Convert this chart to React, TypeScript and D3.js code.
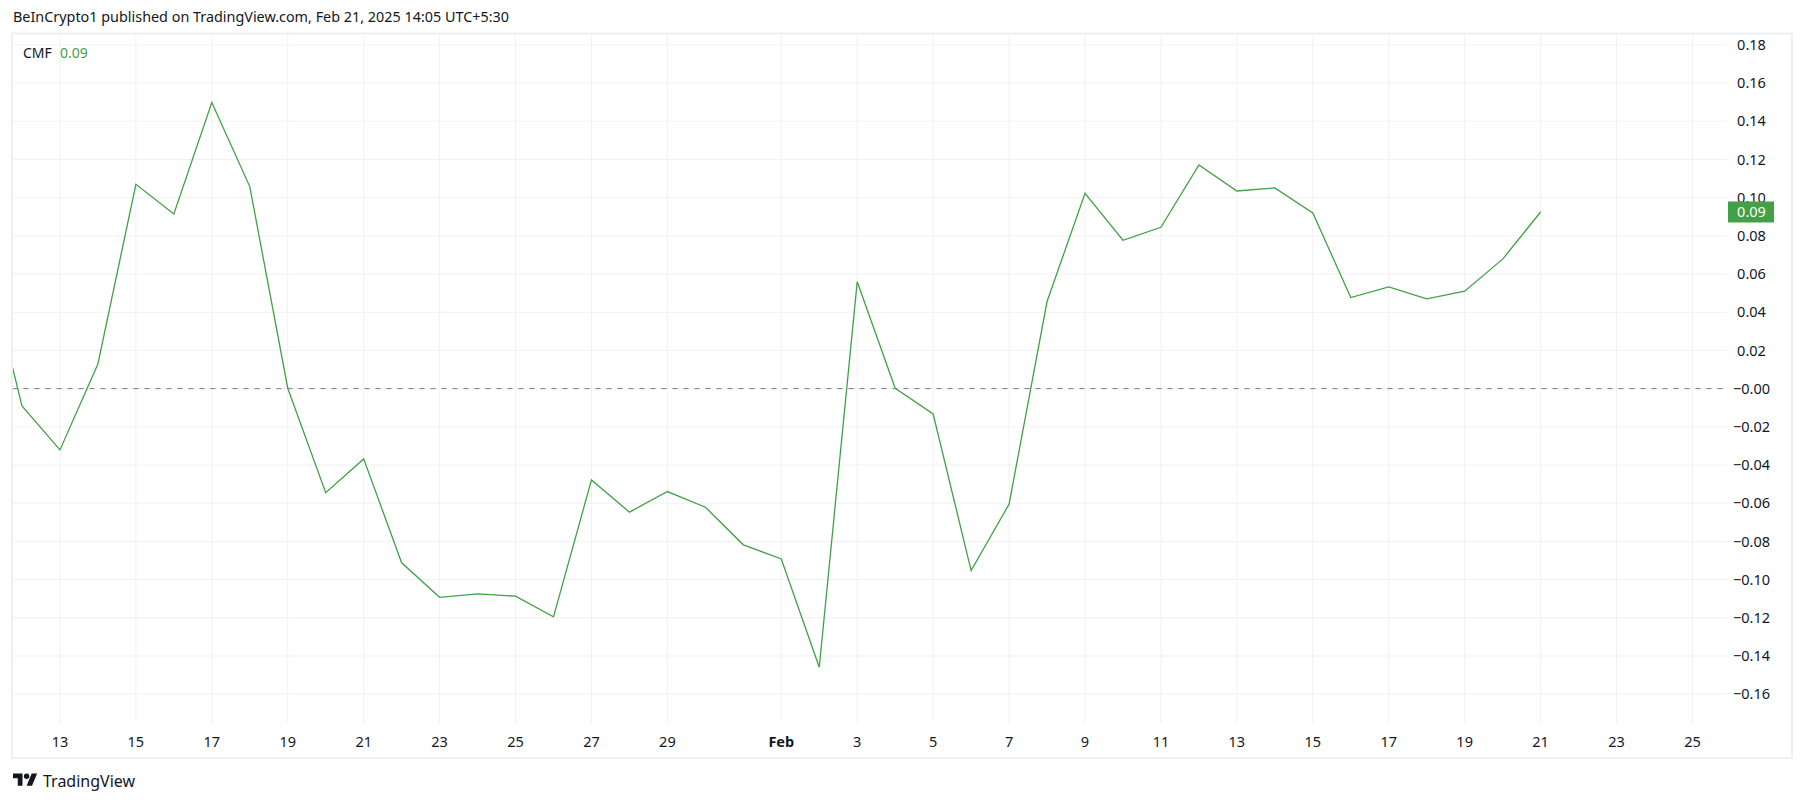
import React from "react";
import * as d3 from "d3";

const dates: string[] = [
  "2025-01-11","2025-01-12","2025-01-13","2025-01-14","2025-01-15","2025-01-16","2025-01-17","2025-01-18",
  "2025-01-19","2025-01-20","2025-01-21","2025-01-22","2025-01-23","2025-01-24","2025-01-25","2025-01-26",
  "2025-01-27","2025-01-28","2025-01-29","2025-01-30","2025-01-31","2025-02-01","2025-02-02","2025-02-03",
  "2025-02-04","2025-02-05","2025-02-06","2025-02-07","2025-02-08","2025-02-09","2025-02-10","2025-02-11",
  "2025-02-12","2025-02-13","2025-02-14","2025-02-15","2025-02-16","2025-02-17","2025-02-18","2025-02-19",
  "2025-02-20","2025-02-21",
];
const cmf: number[] = [
  0.072, -0.0091, -0.0321, 0.0129, 0.107, 0.0915, 0.1498, 0.1058,
  0.0002, -0.0545, -0.0368, -0.0912, -0.1093, -0.1075, -0.1087, -0.1195,
  -0.0478, -0.0647, -0.0539, -0.0621, -0.0818, -0.0892, -0.1459, 0.056,
  0.0002, -0.0133, -0.0953, -0.0605, 0.0456, 0.1023, 0.0777, 0.0845,
  0.1171, 0.1035, 0.1051, 0.092, 0.0477, 0.0533, 0.047, 0.051,
  0.0678, 0.0925,
];
const xTickDates: string[] = [
  "2025-01-13","2025-01-15","2025-01-17","2025-01-19","2025-01-21","2025-01-23","2025-01-25","2025-01-27",
  "2025-01-29","2025-02-01","2025-02-03","2025-02-05","2025-02-07","2025-02-09","2025-02-11","2025-02-13",
  "2025-02-15","2025-02-17","2025-02-19","2025-02-21","2025-02-23","2025-02-25",
];
const yTicks: number[] = [
  0.18, 0.16, 0.14, 0.12, 0.1, 0.08, 0.06, 0.04, 0.02, 0, -0.02, -0.04, -0.06, -0.08, -0.1, -0.12, -0.14, -0.16,
];
const xDomain: string[] = ["2025-01-11T18:00:00Z", "2025-02-25T21:50:00Z"];
const yDomain: number[] = [-0.1751, 0.1857];

const title = "BeInCrypto1 published on TradingView.com, Feb 21, 2025 14:05 UTC+5:30";
const indicatorName = "CMF";
const lastLabel = "0.09";

const FONT = "'Noto Sans', 'Open Sans', sans-serif";
const GREEN = "#43a047";
const TEXT = "#131722";

const parse = (s: string) => new Date(s.length === 10 ? s + "T00:00:00Z" : s);

export default function App() {
  const W = 1805, H = 803;
  const left = 12.5, right = 1727, top = 34, bottom = 723;
  const x = d3.scaleUtc().domain(xDomain.map(parse)).range([left, right]);
  const y = d3.scaleLinear().domain(yDomain).range([bottom, top]);

  const pts = dates.map((d, i) => [x(parse(d)), y(cmf[i])] as [number, number]);
  const line = d3.line<[number, number]>().x((p) => p[0]).y((p) => p[1])(pts) || "";

  const fmtY = (v: number) => {
    const s = Math.abs(v).toFixed(2);
    return v > 0 ? s : "\u2212" + s;
  };
  const fmtX = (s: string) => {
    const d = parse(s);
    return d.getUTCDate() === 1 ? d3.utcFormat("%b")(d) : String(d.getUTCDate());
  };

  const lastY = y(cmf[cmf.length - 1]);
  const axisCx = 1751.5;

  return (
    <div style={{ position: "fixed", left: 0, top: 0 }}>
      <svg width={W} height={H} style={{ display: "block", background: "#fff" }}>
        <rect x={0} y={0} width={W} height={H} fill="#fff" />
        <text x={13} y={21.5} fontFamily={FONT} fontSize={15} fill={TEXT} textLength={496} lengthAdjust="spacingAndGlyphs">{title}</text>

        <defs>
          <clipPath id="plotClip">
            <rect x={left} y={top} width={right - left} height={bottom - top} />
          </clipPath>
        </defs>

        {/* horizontal grid */}
        {yTicks.map((t) => (
          <line key={"h" + t} x1={left} x2={right} y1={y(t)} y2={y(t)} stroke="#f0f1f3" strokeWidth={1} />
        ))}
        {/* vertical grid */}
        {xTickDates.map((d) => (
          <line key={"v" + d} x1={x(parse(d))} x2={x(parse(d))} y1={top} y2={bottom} stroke="#f0f1f3" strokeWidth={1} />
        ))}

        {/* zero dashed line */}
        <line x1={left} x2={right} y1={y(0)} y2={y(0)} stroke="#787b86" strokeWidth={1} strokeDasharray="5 6" />

        {/* series */}
        <path d={line} fill="none" stroke={GREEN} strokeWidth={1.3} clipPath="url(#plotClip)" strokeLinejoin="miter" />

        {/* pane frame */}
        <rect x={12} y={33.5} width={1780} height={724.5} fill="none" stroke="#eeeff1" strokeWidth={2} />

        {/* legend */}
        <text x={23} y={58} fontFamily={FONT} fontSize={14} fill={TEXT}>{indicatorName}</text>
        <text x={60} y={58} fontFamily={FONT} fontSize={14} fill={GREEN}>{lastLabel}</text>

        {/* price axis labels */}
        {yTicks.map((t) => (
          <text key={"yl" + t} x={axisCx} y={y(t)} dy="0.36em" textAnchor="middle" fontFamily={FONT} fontSize={14.5} fill={TEXT}>
            {fmtY(t)}
          </text>
        ))}

        {/* last value label */}
        <rect x={1728} y={lastY - 10.5} width={46} height={21} fill={GREEN} />
        <text x={axisCx} y={lastY} dy="0.36em" textAnchor="middle" fontFamily={FONT} fontSize={14.5} fill="#fff">{lastLabel}</text>

        {/* time axis labels */}
        {xTickDates.map((d) => (
          <text key={"xl" + d} x={x(parse(d))} y={742} dy="0.36em" textAnchor="middle" fontFamily={FONT} fontSize={14.5}
            fontWeight={parse(d).getUTCDate() === 1 ? 700 : 400} fill={TEXT}>
            {fmtX(d)}
          </text>
        ))}

        {/* TradingView logo */}
        <g transform="translate(13,773.5) scale(0.68)" fill={TEXT}>
          <path d="M14 22H7V11H0V4h14v18zM28 22h-8l7.5-18h8L28 22z" transform="translate(0,-4)" />
          <circle cx={20} cy={4} r={4} />
        </g>
        <text x={43} y={787} fontFamily={FONT} fontSize={16} fill={TEXT}>TradingView</text>
      </svg>
    </div>
  );
}
